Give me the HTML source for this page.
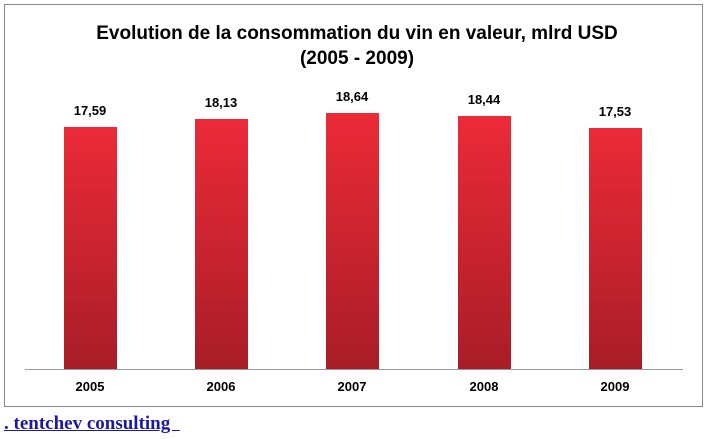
<!DOCTYPE html>
<html><head><meta charset="utf-8"><style>
body{margin:0;width:714px;height:439px;background:#fff;position:relative;overflow:hidden;font-family:"Liberation Sans",sans-serif}
.frame{position:absolute;left:4px;top:4px;width:699px;height:403px;border:1px solid #888;box-sizing:border-box}
.t{position:absolute;left:0;width:714px;text-align:center;font-weight:bold;font-size:19px;color:#000}
.bar{position:absolute;width:53px;bottom:70px;background:linear-gradient(#ec2a38,#a81d27)}
.v{position:absolute;width:80px;text-align:center;font-weight:bold;font-size:13px}
.x{position:absolute;top:379px;width:80px;text-align:center;font-weight:bold;font-size:13px}
.axis{position:absolute;left:25px;top:369px;width:658px;height:1px;background:#999}
a{position:absolute;left:4px;top:413px;font-family:"Liberation Serif",serif;font-weight:bold;font-size:19px;color:#1a1aa6}
</style></head><body>
<div class="frame"></div>
<div class="t" style="top:23px">Evolution de la consommation du vin en valeur, mlrd USD</div>
<div class="t" style="top:48px">(2005 - 2009)</div>
<div class="bar" style="left:64px;top:127px"></div>
<div class="bar" style="left:195px;top:119px"></div>
<div class="bar" style="left:326px;top:113px"></div>
<div class="bar" style="left:458px;top:116px"></div>
<div class="bar" style="left:589px;top:128px"></div>
<div class="axis"></div>
<div class="v" style="left:50px;top:103px">17,59</div>
<div class="v" style="left:181px;top:95px">18,13</div>
<div class="v" style="left:312px;top:89px">18,64</div>
<div class="v" style="left:444px;top:92px">18,44</div>
<div class="v" style="left:575px;top:104px">17,53</div>
<div class="x" style="left:50px">2005</div>
<div class="x" style="left:181px">2006</div>
<div class="x" style="left:312px">2007</div>
<div class="x" style="left:444px">2008</div>
<div class="x" style="left:575px">2009</div>
<a href="#">. tentchev consulting&nbsp;&nbsp;</a>
</body></html>
